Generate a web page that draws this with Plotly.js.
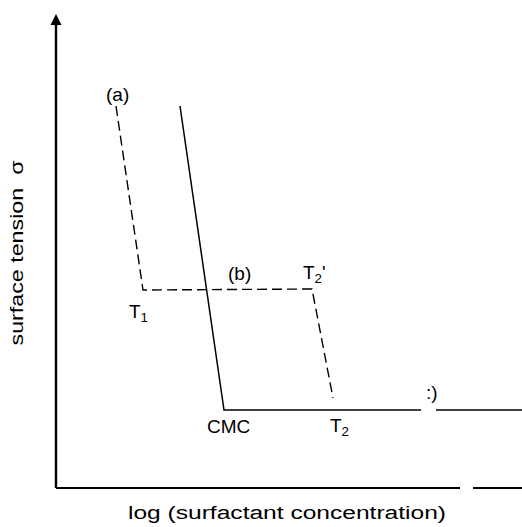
<!DOCTYPE html>
<html>
<head>
<meta charset="utf-8">
<script src="https://cdn.plot.ly/plotly-3.0.1.min.js"></script>
<style>
html, body { margin: 0; padding: 0; background: #fff; }
#chart { width: 522px; height: 527px; }
</style>
</head>
<body>
<div id="chart"></div>
<script>
// Schematic values (arbitrary units)
// Solid curve: surface tension vs log concentration, break at CMC, plateau beyond
const solidX = [124, 168, 365, null, 380, 466];
const solidY = [382, 78, 78, null, 78, 78];
// Dashed path (a) -> T1 -> (b) -> T2' -> T2
const dashX = [60, 87, 256, 277];
const dashY = [382, 198, 199, 90];
// Axis baselines (with the gap seen in the print)
const baseX = [0, 404, null, 417, 466];
const baseY = [0, 0, null, 0, 0];
const vAxisX = [0, 0];
const vAxisY = [0, 468];
// Point labels
const labelText = ['(a)', '(b)', "T<sub>2</sub>'", 'T<sub>1</sub>', 'CMC', 'T<sub>2</sub>', ':)'];
const labelX = [61, 183, 258, 82, 172, 283, 376];
const labelY = [394, 215, 214, 175, 62, 61, 96];
const arrowTip = [0, 474];

const FONT = 'Liberation Sans, Arial, Helvetica, sans-serif';

const traces = [
  { x: baseX, y: baseY, mode: 'lines', line: { color: '#000', width: 2.2 }, hoverinfo: 'skip', showlegend: false },
  { x: vAxisX, y: vAxisY, mode: 'lines', line: { color: '#000', width: 2.4 }, hoverinfo: 'skip', showlegend: false },
  { x: solidX, y: solidY, mode: 'lines', line: { color: '#000', width: 1.5 }, connectgaps: false, showlegend: false },
  { x: dashX, y: dashY, mode: 'lines', line: { color: '#000', width: 1.4, dash: '10px,5px' }, showlegend: false }
];

const annotations = labelText.map((t, i) => ({
  x: labelX[i], y: labelY[i], xref: 'x', yref: 'y', text: t, showarrow: false,
  font: { family: FONT, size: 19, color: '#000' }, xanchor: 'center', yanchor: 'middle'
}));
annotations.push({
  x: arrowTip[0], y: arrowTip[1], ax: arrowTip[0], ay: arrowTip[1] - 14,
  xref: 'x', yref: 'y', axref: 'x', ayref: 'y', text: '', showarrow: true,
  arrowhead: 2, arrowsize: 1.1, arrowwidth: 2, arrowcolor: '#000', standoff: 0, startstandoff: 0
});

const layout = {
  width: 522, height: 527,
  margin: { l: 52, r: 0, t: 14, b: 35 },
  paper_bgcolor: '#fff', plot_bgcolor: '#fff',
  font: { family: FONT, color: '#000' },
  xaxis: {
    range: [-4, 466], showgrid: false, zeroline: false, showline: false,
    showticklabels: false, ticks: '',
    title: { text: 'log (surfactant concentration)', font: { family: FONT, size: 18, color: '#000' }, standoff: 14 }
  },
  yaxis: {
    range: [-4, 474], showgrid: false, zeroline: false, showline: false,
    showticklabels: false, ticks: '',
    title: { text: 'surface tension  σ', font: { family: FONT, size: 18, color: '#000' }, standoff: 22 }
  },
  annotations: annotations,
  showlegend: false
};

Plotly.newPlot('chart', traces, layout, { staticPlot: true }).then(() => {
  const stretch = (sel, len) => {
    document.querySelectorAll(sel).forEach(t => {
      t.setAttribute('textLength', len);
      t.setAttribute('lengthAdjust', 'spacingAndGlyphs');
    });
  };
  stretch('.xtitle', 318);
  stretch('.ytitle', 185);
});
</script>
</body>
</html>
